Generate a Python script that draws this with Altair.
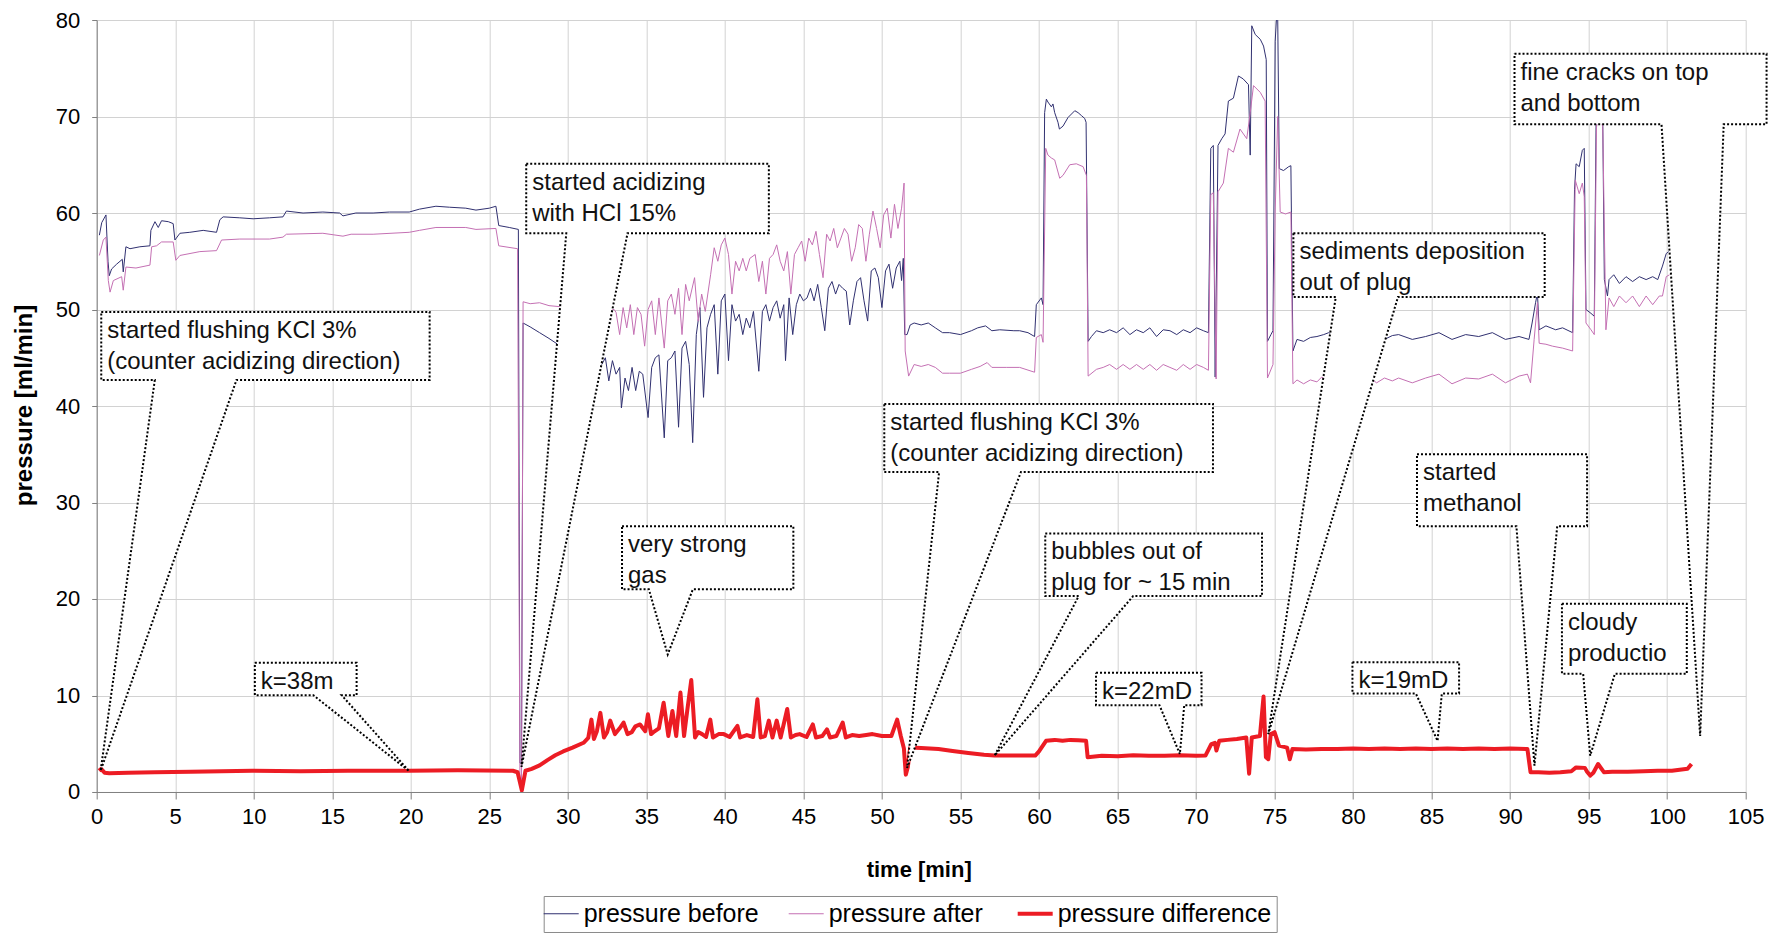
import altair as alt
import pandas as pd

# ---------------- data ----------------
# (time [min], pressure [ml/min])
before = [
    (0.17, 57.7), (0.32, 59.0), (0.59, 59.8), (0.72, 55.0), (0.80, 53.5), (0.95, 54.2), (1.27, 54.7),
    (1.63, 55.2), (1.69, 53.9), (1.86, 56.5), (2.12, 56.3), (2.75, 56.5), (3.39, 56.6), (3.45, 58.2),
    (3.71, 59.1), (3.92, 58.5), (4.13, 59.2), (4.56, 59.1), (4.87, 58.9), (4.98, 57.2), (5.30, 57.9),
    (5.93, 58.0), (6.78, 58.2), (7.63, 58.0), (7.84, 59.3), (8.05, 59.6), (9.11, 59.5), (9.96, 59.4),
    (11.0, 59.5), (11.86, 59.6), (12.08, 60.2), (13.14, 60.0), (14.4, 60.1), (15.47, 60.0), (15.68, 59.7),
    (16.5, 60.0), (17.6, 60.0), (18.64, 60.1), (19.9, 60.1), (20.55, 60.4), (21.6, 60.7), (22.46, 60.6),
    (23.5, 60.5), (24.15, 60.3), (25.0, 60.5), (25.42, 60.7), (25.6, 58.7), (26.27, 58.5), (26.85, 58.3),
    (26.95, 3.0), (27.05, 3.0), (27.15, 48.6), (27.6, 48.2), (28.2, 47.6), (28.8, 47.0), (29.35, 46.4),
    (32.16, 44.3), (32.39, 45.0), (32.61, 42.6), (32.84, 44.7), (33.07, 43.3), (33.30, 44.0), (33.41, 39.8),
    (33.64, 42.9), (33.86, 41.6), (34.09, 44.0), (34.32, 41.6), (34.55, 43.6), (34.77, 43.3), (35.11, 38.8),
    (35.34, 44.0), (35.57, 45.0), (35.80, 45.3), (36.14, 36.7), (36.36, 44.7), (36.59, 45.0), (36.82, 45.7),
    (37.05, 37.8), (37.27, 46.0), (37.50, 46.7), (37.73, 44.3), (37.95, 36.2), (38.18, 47.4), (38.41, 50.2),
    (38.64, 40.9), (38.86, 48.1), (39.09, 49.5), (39.32, 50.5), (39.55, 43.3), (39.77, 50.9), (40.0, 51.6),
    (40.23, 44.7), (40.45, 50.5), (40.68, 48.8), (40.91, 49.5), (41.14, 47.4), (41.36, 49.1), (41.59, 48.1),
    (41.82, 49.8), (42.16, 43.6), (42.39, 49.8), (42.61, 50.5), (42.84, 48.8), (43.07, 50.2), (43.30, 50.9),
    (43.52, 49.1), (43.75, 50.5), (43.86, 44.7), (44.09, 51.2), (44.32, 47.4), (44.55, 50.5), (44.77, 51.6),
    (45.0, 50.9), (45.23, 51.2), (45.45, 52.2), (45.68, 50.9), (45.91, 52.6), (46.14, 50.2), (46.36, 47.8),
    (46.59, 52.2), (46.82, 52.9), (47.05, 51.6), (47.27, 52.6), (47.5, 52.2), (47.73, 51.9), (47.95, 48.4),
    (48.18, 50.9), (48.41, 52.9), (48.64, 53.3), (48.86, 50.9), (49.09, 48.8), (49.32, 54.0), (49.55, 54.3),
    (49.77, 53.3), (50.0, 50.2), (50.23, 54.0), (50.45, 54.7), (50.68, 52.2), (50.91, 54.3), (51.14, 55.0),
    (51.25, 53.0), (51.36, 55.3), (51.45, 47.4), (51.6, 47.4), (51.8, 48.4), (52.05, 48.6), (52.5, 48.4),
    (52.95, 48.6), (53.4, 48.1), (53.86, 47.6), (54.3, 47.6), (55.0, 47.4), (55.7, 47.8), (56.1, 48.1),
    (56.6, 48.3), (57.0, 47.8), (57.5, 47.9), (58.4, 47.8), (58.77, 47.8), (59.3, 47.6), (59.72, 47.2),
    (59.83, 50.5), (60.15, 51.2), (60.26, 50.5), (60.36, 70.4), (60.47, 71.8), (60.57, 71.5), (60.79, 71.0),
    (60.89, 71.3), (61.0, 70.4), (61.21, 69.4), (61.3, 68.7), (61.53, 69.0), (61.85, 69.9), (62.28, 70.6),
    (62.49, 70.4), (62.7, 70.1), (62.91, 69.8), (63.0, 69.4), (63.13, 46.7), (63.34, 47.2), (63.66, 47.8),
    (64.09, 47.6), (64.5, 47.9), (64.94, 47.6), (65.36, 48.1), (65.79, 47.4), (66.21, 47.9), (66.64, 47.6),
    (67.06, 48.1), (67.49, 47.2), (67.91, 47.9), (68.34, 47.8), (68.77, 47.4), (69.19, 47.9), (69.62, 47.6),
    (70.04, 48.1), (70.47, 47.8), (70.79, 47.6), (70.94, 66.7), (71.1, 67.0), (71.22, 43.0), (71.4, 67.0),
    (71.64, 67.7), (71.85, 68.2), (72.06, 71.6), (72.38, 71.9), (72.7, 74.2), (73.0, 73.9), (73.34, 73.3),
    (73.45, 66.0), (73.55, 79.4), (73.77, 78.5), (74.09, 78.0), (74.3, 77.3), (74.47, 75.9), (74.55, 46.7),
    (74.77, 47.4), (74.9, 47.8), (75.04, 77.8), (75.19, 82.0), (75.3, 64.6), (75.57, 64.4), (75.9, 64.8),
    (76.04, 64.9), (76.17, 45.7), (76.43, 46.9), (76.85, 46.7), (77.28, 47.1), (77.7, 47.2), (78.13, 47.4),
    (78.45, 47.6), (79.0, 47.2), (79.5, 47.5), (80.0, 47.0), (80.5, 47.4), (81.0, 47.1), (81.5, 47.5),
    (82.0, 46.9), (82.5, 47.3), (82.9, 47.4), (83.77, 46.9), (84.62, 47.2), (85.47, 47.6), (86.3, 46.9),
    (87.17, 47.4), (88.0, 47.2), (88.87, 47.6), (89.7, 46.9), (90.57, 47.2), (91.2, 46.9), (91.4, 48.6),
    (91.62, 50.7), (91.74, 51.7), (91.85, 47.9), (92.28, 48.3), (92.9, 47.9), (93.34, 48.1), (93.98, 47.6),
    (94.1, 62.4), (94.2, 65.1), (94.4, 64.8), (94.6, 66.5), (94.72, 66.7), (94.83, 50.0), (95.15, 49.6),
    (95.36, 49.3), (95.47, 68.9), (95.57, 74.0), (95.79, 74.0), (95.9, 69.2), (96.0, 53.1), (96.2, 51.4),
    (96.3, 53.1), (96.6, 53.6), (96.96, 52.7), (97.38, 53.4), (97.8, 52.9), (98.23, 53.4), (98.66, 53.1),
    (99.08, 53.4), (99.4, 53.1), (99.7, 54.5), (99.94, 55.8), (100.1, 56.0),
]

after = [
    (0.17, 55.6), (0.42, 57.2), (0.59, 57.5), (0.74, 53.0), (0.85, 51.8), (1.06, 53.0), (1.59, 53.4),
    (1.69, 52.0), (1.86, 54.4), (2.5, 54.3), (3.39, 54.6), (3.5, 56.5), (3.81, 56.6), (4.13, 57.0),
    (4.87, 57.0), (5.04, 55.1), (5.3, 55.6), (6.57, 56.0), (7.63, 56.1), (7.95, 57.2), (9.11, 57.3),
    (11.0, 57.3), (11.86, 57.5), (12.08, 57.8), (14.4, 57.9), (15.68, 57.6), (16.2, 57.8), (17.6, 57.8),
    (19.9, 58.0), (20.55, 58.2), (21.6, 58.5), (23.5, 58.5), (24.15, 58.3), (25.42, 58.4), (25.6, 56.6),
    (26.8, 56.3), (26.95, 1.0), (27.05, 1.0), (27.15, 50.8), (27.6, 50.6), (28.2, 50.7), (28.8, 50.4),
    (29.45, 50.3), (32.95, 50.0), (33.07, 49.7), (33.3, 47.4), (33.52, 50.2), (33.75, 48.1), (33.98, 50.5),
    (34.2, 47.4), (34.43, 50.2), (34.66, 49.5), (34.89, 46.2), (35.11, 50.0), (35.34, 50.9), (35.57, 47.4),
    (35.8, 51.2), (36.14, 46.0), (36.36, 50.9), (36.59, 51.6), (36.82, 49.5), (37.05, 52.2), (37.27, 47.4),
    (37.5, 52.6), (37.73, 50.9), (38.07, 53.3), (38.3, 48.8), (38.52, 51.6), (38.75, 49.8), (39.09, 53.6),
    (39.32, 56.4), (39.55, 55.0), (39.77, 56.7), (40.0, 57.4), (40.23, 55.7), (40.45, 51.6), (40.68, 55.0),
    (40.91, 54.0), (41.14, 55.3), (41.36, 54.0), (41.59, 55.3), (41.93, 55.7), (42.16, 52.9), (42.39, 55.0),
    (42.61, 51.6), (42.84, 55.3), (43.07, 55.7), (43.3, 56.7), (43.52, 55.0), (43.75, 54.0), (43.98, 56.0),
    (44.2, 51.6), (44.43, 55.7), (44.66, 56.4), (44.89, 57.1), (45.11, 55.0), (45.34, 57.4), (45.57, 56.7),
    (45.8, 58.1), (46.02, 55.7), (46.25, 53.3), (46.48, 57.8), (46.7, 57.1), (46.93, 58.4), (47.16, 56.4),
    (47.39, 57.4), (47.61, 58.4), (47.84, 57.8), (48.07, 55.0), (48.3, 56.4), (48.52, 58.8), (48.75, 58.4),
    (48.98, 55.0), (49.2, 57.8), (49.43, 60.2), (49.66, 58.4), (49.89, 56.4), (50.11, 59.8), (50.34, 60.5),
    (50.57, 57.4), (50.8, 60.9), (51.02, 58.4), (51.25, 60.5), (51.41, 63.1), (51.48, 45.7), (51.7, 43.1),
    (52.05, 44.3), (52.5, 44.1), (52.95, 44.3), (53.4, 44.0), (53.86, 43.4), (54.3, 43.4), (55.0, 43.4),
    (55.7, 43.8), (56.25, 44.1), (56.7, 44.5), (57.0, 44.0), (57.95, 44.0), (58.77, 44.0), (59.72, 43.5),
    (59.83, 47.1), (60.15, 47.4), (60.26, 46.6), (60.43, 66.7), (60.57, 66.0), (60.79, 65.7), (61.0, 65.5),
    (61.32, 63.6), (61.53, 63.9), (61.96, 65.0), (62.38, 65.1), (62.81, 64.8), (63.02, 63.9), (63.13, 43.1),
    (63.66, 43.8), (64.09, 44.0), (64.5, 44.3), (64.94, 43.8), (65.36, 44.3), (65.79, 43.8), (66.21, 44.3),
    (66.64, 43.8), (67.06, 44.3), (67.49, 43.7), (67.91, 44.3), (68.34, 44.0), (68.77, 43.7), (69.19, 44.3),
    (69.62, 43.8), (70.04, 44.3), (70.47, 44.0), (70.79, 43.7), (70.94, 61.9), (71.1, 62.1), (71.28, 42.8),
    (71.4, 62.2), (71.74, 63.1), (72.06, 66.7), (72.38, 66.3), (72.8, 68.7), (73.23, 67.7), (73.45, 70.4),
    (73.66, 73.2), (74.09, 72.5), (74.4, 71.6), (74.55, 42.9), (74.9, 44.3), (75.04, 60.1), (75.2, 70.0),
    (75.36, 60.1), (75.7, 59.9), (76.04, 60.1), (76.17, 42.3), (76.43, 42.7), (76.85, 42.3), (77.28, 42.7),
    (77.7, 42.5), (78.0, 43.0), (78.5, 42.6), (79.0, 42.9), (79.5, 42.4), (80.0, 42.8), (80.5, 42.5),
    (81.0, 43.0), (81.5, 42.4), (82.0, 42.9), (82.5, 42.6), (82.9, 42.9), (83.77, 42.4), (84.62, 42.9),
    (85.47, 43.3), (86.3, 42.3), (87.17, 42.9), (88.0, 42.8), (88.87, 43.3), (89.7, 42.4), (90.57, 43.1),
    (91.1, 43.3), (91.3, 42.4), (91.53, 46.9), (91.74, 50.7), (91.85, 46.5), (92.28, 46.4), (92.7, 46.2),
    (93.34, 46.0), (93.98, 45.7), (94.15, 63.4), (94.4, 62.0), (94.6, 63.1), (94.72, 61.7), (94.83, 48.6),
    (95.15, 47.9), (95.36, 47.4), (95.5, 68.9), (95.68, 70.5), (95.9, 68.9), (96.1, 47.9), (96.3, 51.2),
    (96.6, 50.3), (96.96, 51.4), (97.38, 50.7), (97.8, 51.4), (98.23, 50.3), (98.66, 51.4), (99.08, 50.5),
    (99.5, 51.4), (99.7, 51.4), (99.94, 53.4), (100.15, 53.6),
]

difference = [
    (0.15, 2.2), (0.28, 2.4), (0.5, 2.0), (0.8, 1.95), (2.0, 2.0), (3.7, 2.05), (6.0, 2.1), (9.9, 2.2),
    (13.0, 2.15), (16.0, 2.2), (19.9, 2.2), (23.0, 2.25), (26.5, 2.2), (26.8, 2.05), (27.07, 0.17),
    (27.3, 2.2), (27.7, 2.4), (28.2, 2.75), (28.7, 3.3), (29.2, 3.8), (29.7, 4.2), (30.3, 4.6), (31.0, 5.1),
    (31.3, 5.6), (31.5, 7.5), (31.66, 5.5), (31.85, 6.3), (32.07, 8.2), (32.3, 5.65), (32.5, 6.2),
    (32.7, 7.4), (33.0, 6.0), (33.3, 6.6), (33.55, 7.2), (33.8, 6.0), (34.07, 6.2), (34.3, 6.8), (34.6, 7.0),
    (34.93, 6.3), (35.1, 8.05), (35.3, 6.0), (35.45, 6.2), (35.8, 6.6), (36.1, 9.25), (36.4, 5.8),
    (36.66, 8.4), (36.9, 5.8), (37.17, 10.3), (37.4, 5.8), (37.6, 8.4), (37.86, 11.6), (38.1, 5.65),
    (38.3, 6.2), (38.55, 6.0), (38.8, 5.7), (39.07, 7.5), (39.24, 5.65), (39.6, 6.0), (39.93, 6.0),
    (40.3, 5.7), (40.8, 6.85), (40.97, 5.65), (41.4, 5.9), (41.8, 5.7), (42.07, 9.6), (42.28, 5.65),
    (42.55, 5.8), (42.8, 7.4), (43.03, 5.65), (43.3, 7.4), (43.55, 5.65), (43.97, 8.6), (44.2, 5.65),
    (44.5, 5.9), (44.76, 6.0), (45.2, 5.7), (45.6, 7.0), (45.8, 5.65), (46.2, 5.8), (46.5, 6.5),
    (46.7, 5.65), (47.1, 5.8), (47.5, 7.2), (47.7, 5.65), (48.1, 5.9), (48.55, 5.8), (49.0, 5.9),
    (49.4, 6.0), (50.0, 5.8), (50.6, 5.8), (50.97, 7.5), (51.2, 5.8), (51.4, 4.5), (51.52, 1.8),
    (51.65, 2.6), (51.8, 4.6), (52.5, 4.55), (53.6, 4.45), (54.5, 4.25), (55.5, 4.05), (56.5, 3.85),
    (57.17, 3.77), (58.5, 3.77), (59.76, 3.77), (60.0, 4.2), (60.45, 5.3), (61.0, 5.4), (61.5, 5.3),
    (62.0, 5.4), (62.5, 5.35), (63.0, 5.3), (63.1, 3.6), (64.0, 3.75), (65.0, 3.7), (66.0, 3.8),
    (67.0, 3.75), (68.0, 3.75), (69.0, 3.8), (70.0, 3.75), (70.6, 3.77), (70.97, 4.97), (71.2, 5.1),
    (71.3, 4.3), (71.48, 5.3), (72.0, 5.4), (72.6, 5.5), (73.2, 5.65), (73.38, 1.9), (73.55, 5.65),
    (74.07, 5.8), (74.3, 9.9), (74.45, 3.6), (74.6, 3.4), (74.76, 6.0), (75.0, 6.2), (75.28, 4.8),
    (75.8, 4.6), (75.97, 3.4), (76.14, 4.45), (77.0, 4.4), (78.0, 4.45), (79.0, 4.45), (80.0, 4.5),
    (81.0, 4.45), (82.0, 4.5), (83.0, 4.45), (84.0, 4.5), (85.0, 4.45), (86.0, 4.5), (87.0, 4.45),
    (88.0, 4.5), (89.0, 4.45), (90.0, 4.5), (91.1, 4.45), (91.3, 2.05), (91.8, 2.05), (92.5, 2.0),
    (93.2, 2.05), (93.9, 2.15), (94.2, 2.55), (94.76, 2.5), (94.9, 2.1), (95.1, 1.7), (95.3, 2.0),
    (95.6, 2.9), (95.97, 2.05), (96.5, 2.1), (97.5, 2.1), (98.5, 2.15), (99.4, 2.2), (100.3, 2.2),
    (101.3, 2.4), (101.55, 2.9),
]

series_names = ["pressure before", "pressure after", "pressure difference"]

# callouts: text, box (time range, pressure range), pointer base on the box and pointed-at point
ann_label = [
    "started flushing KCl 3%\n(counter acidizing direction)",
    "started acidizing\nwith HCl 15%",
    "very strong\ngas",
    "k=38m",
    "started flushing KCl 3%\n(counter acidizing direction)",
    "bubbles out of\nplug for ~ 15 min",
    "k=22mD",
    "sediments deposition\nout of plug",
    "fine cracks on top\nand bottom",
    "started\nmethanol",
    "cloudy\nproductio",
    "k=19mD",
]
ann_t0 = [0.29, 27.35, 33.45, 10.07, 50.15, 60.4, 63.63, 76.2, 90.28, 84.07, 93.3, 79.96]
ann_t1 = [21.2, 42.8, 44.36, 16.55, 71.08, 74.2, 70.35, 92.2, 106.33, 94.9, 101.25, 86.75]
ann_vtop = [49.75, 65.1, 27.55, 13.4, 40.2, 26.8, 12.35, 57.9, 76.5, 35.0, 19.5, 13.45]
ann_vbot = [42.7, 57.9, 21.0, 10.03, 33.15, 20.3, 9.0, 51.3, 69.2, 27.55, 12.25, 10.2]
ann_w0 = [3.7, 29.9, 35.16, 13.8, 53.64, 62.53, 67.67, 78.9, 99.64, 90.4, 94.65, 84.0]
ann_w1 = [8.9, 33.8, 37.96, 15.6, 58.85, 66.0, 69.25, 82.86, 103.6, 93.0, 96.67, 85.65]
ann_pt = [0.25, 27.05, 36.36, 19.9, 51.6, 57.17, 68.97, 74.6, 102.1, 91.55, 95.1, 85.38]
ann_pv = [2.2, 2.6, 14.25, 2.15, 2.5, 3.77, 3.94, 6.0, 5.8, 2.74, 3.77, 5.3]

# ---------------- styles ----------------
FONT = "Liberation Sans"
series_colors = ["#2f2f6f", "#c46fb3", "#ec1c24"]
series_widths = [1.0, 1.0, 4.0]

# ---------------- tables ----------------
frames = []
for name, pts in zip(series_names, [before, after, difference]):
    frames.append(pd.DataFrame({
        "t": [p[0] for p in pts],
        "v": [p[1] for p in pts],
        "i": list(range(len(pts))),
        "series": name,
    }))
lines_df = pd.concat(frames, ignore_index=True)

poly_rows = []
for k in range(len(ann_label)):
    verts = [
        (ann_t0[k], ann_vtop[k]), (ann_t1[k], ann_vtop[k]), (ann_t1[k], ann_vbot[k]),
        (ann_w1[k], ann_vbot[k]), (ann_pt[k], ann_pv[k]), (ann_w0[k], ann_vbot[k]),
        (ann_t0[k], ann_vbot[k]), (ann_t0[k], ann_vtop[k]),
    ]
    for j, (tt, vv) in enumerate(verts):
        poly_rows.append({"id": k, "j": j, "t": tt, "v": vv})
poly_df = pd.DataFrame(poly_rows)

text_df = pd.DataFrame({"t": ann_t0, "v": ann_vtop, "label": ann_label})

# ---------------- encodings ----------------
x_axis = alt.Axis(
    title="time [min]", values=list(range(0, 106, 5)), labelFontSize=22, labelFont=FONT,
    labelColor="black", tickSize=7, labelPadding=8, labelFlush=False, labelOverlap=False,
    titleFontSize=22, titleFont=FONT, titleFontWeight="bold", titleColor="black",
    titleX=822, titleY=78, titleBaseline="middle", titleAlign="center",
    grid=True, gridColor="#d2d2d2", domainColor="#808080", tickColor="#808080",
)
y_axis = alt.Axis(
    title="pressure [ml/min]", values=list(range(0, 81, 10)), labelFontSize=22, labelFont=FONT,
    labelColor="black", tickSize=5, labelPadding=12, labelFlush=False,
    titleFontSize=24, titleFont=FONT, titleFontWeight="bold", titleColor="black",
    titleX=-72, titleY=385, titleAngle=-90, titleBaseline="middle", titleAlign="center",
    grid=True, gridColor="#d2d2d2", domainColor="#808080", tickColor="#808080",
)
x_enc = alt.X("t:Q", scale=alt.Scale(domain=[0, 105], nice=False, zero=False), axis=x_axis)
y_enc = alt.Y("v:Q", scale=alt.Scale(domain=[0, 80], nice=False), axis=y_axis)

legend = alt.Legend(
    title=None, orient="none", legendX=447, legendY=876, direction="horizontal",
    strokeColor="#8a8a8a", padding=5, labelFontSize=25, labelFont=FONT, labelColor="black",
    labelLimit=0, symbolType="stroke", symbolSize=1225, labelOffset=10, columnPadding=26,
    symbolStrokeWidth=alt.expr("datum.value == 'pressure difference' ? 4 : 1.2"),
)
color_enc = alt.Color("series:N", sort=series_names,
                      scale=alt.Scale(domain=series_names, range=series_colors), legend=legend)

layers = []
for name, w in zip(series_names, series_widths):
    layers.append(
        alt.Chart(lines_df)
        .transform_filter(alt.datum.series == name)
        .mark_line(clip=True, strokeJoin="round", strokeWidth=w)
        .encode(x=x_enc, y=y_enc, color=color_enc, order=alt.Order("i:Q"))
    )

callouts = (
    alt.Chart(poly_df)
    .mark_line(fill="white", stroke="black", strokeWidth=2, strokeDash=[2, 2], strokeJoin="miter")
    .encode(x=x_enc, y=y_enc, detail="id:N", order=alt.Order("j:Q"))
)

texts = (
    alt.Chart(text_df)
    .mark_text(align="left", baseline="top", dx=6, dy=7, fontSize=24, font=FONT,
               color="#111111", lineBreak="\n", lineHeight=31)
    .encode(x=x_enc, y=y_enc, text="label:N")
)

chart = (
    alt.layer(*layers, callouts, texts)
    .properties(
        width=1649, height=772,
        autosize=alt.AutoSizeParams(type="none"),
        padding={"left": 88.7, "top": 12, "right": 30, "bottom": 149},
        background="white",
    )
    .configure_view(stroke=None)
)

chart.save("out.html", embed_options={"renderer": "svg", "actions": False})
